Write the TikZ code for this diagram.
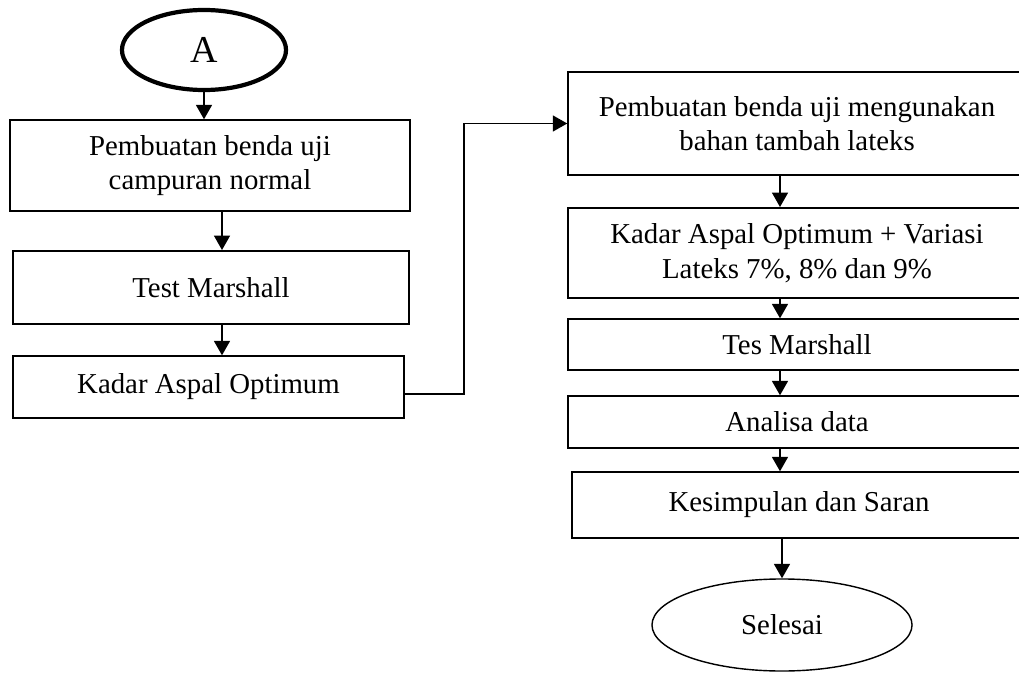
\documentclass[tikz,border=0pt]{standalone}
\usepackage{fontspec}
\setmainfont{Liberation Serif}
\usetikzlibrary{shapes.geometric,arrows.meta}

\begin{document}
\begin{tikzpicture}[x=0.025cm,y=-0.025cm,>={Triangle[length=0.36cm,width=0.4cm]},
  flow box/.style={draw,rectangle,line width=1pt,align=center,inner sep=0pt,font=\fontsize{20.5}{24.5}\selectfont},
  end node/.style={ellipse,draw,line width=1pt,inner sep=0pt,font=\fontsize{20.5}{24.5}\selectfont}]
\tikzstyle{link} = [draw,->,line width=1pt]
\useasboundingbox (0,0) rectangle (1019,675);
\clip (0,0) rectangle (1019,675);
\coordinate (lcol) at (222,0);
\coordinate (rcol) at (780,0);
\coordinate (bend) at (464,0);

% Left column
\node[end node,line width=3pt,minimum width=4.1cm,minimum height=2cm,font=\fontsize{27}{30}\selectfont] (start) at (204,50) {A};
\node[flow box,minimum width=10cm,minimum height=2.275cm] (mix) at (210,165.5) {Pembuatan benda uji\\campuran normal};
\node[flow box,line width=1.4pt,minimum width=9.9cm,minimum height=1.825cm] (test) at (211,287.5) {Test Marshall};
\node[flow box,minimum width=9.775cm,minimum height=1.55cm] (kao) at (208.5,387) {Kadar Aspal Optimum};

% Right column
\node[flow box,minimum width=11.45cm,minimum height=2.575cm] (latex) at (797,123.5) {Pembuatan benda uji mengunakan\\bahan tambah lateks};
\node[flow box,line width=1.4pt,minimum width=11.45cm,minimum height=2.25cm] (vary) at (797,253) {Kadar Aspal Optimum + Variasi\\Lateks 7\%, 8\% dan 9\%};
\node[flow box,minimum width=11.45cm,minimum height=1.275cm] (tes) at (797,344.5) {Tes Marshall};
\node[flow box,minimum width=11.45cm,minimum height=1.3cm] (data) at (797,422) {Analisa data};
\node[flow box,minimum width=11.35cm,minimum height=1.65cm] (end) at (799,505) {Kesimpulan dan Saran};
\node[end node,minimum width=6.5cm,minimum height=2.3cm] (done) at (782,625) {Selesai};

% Connectors
\path[link] (start.south) -- (start.south |- mix.north);
\path[link] (mix.south -| lcol) -- (test.north -| lcol);
\path[link] (test.south -| lcol) -- (kao.north -| lcol);
\path[link] ([yshift=-0.17cm]kao.east) -| (bend |- latex.west) -- (latex.west);
\path[link] (latex.south -| rcol) -- (vary.north -| rcol);
\path[link] (vary.south -| rcol) -- (tes.north -| rcol);
\path[link] (tes.south -| rcol) -- (data.north -| rcol);
\path[link] (data.south -| rcol) -- (end.north -| rcol);
\path[link] (end.south -| done.north) -- (done.north);
\end{tikzpicture}
\end{document}
